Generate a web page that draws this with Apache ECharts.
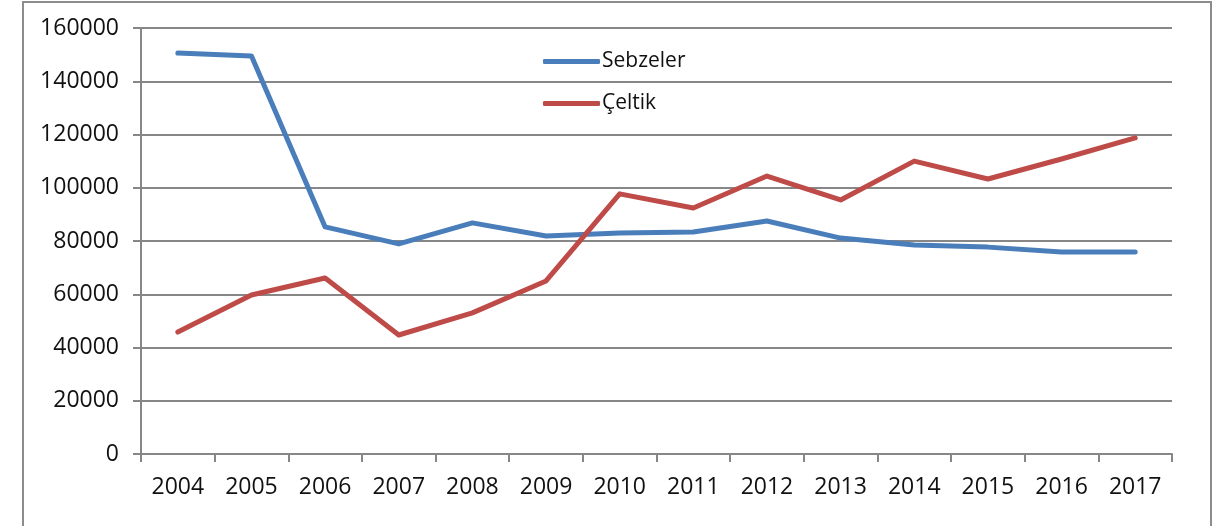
<!DOCTYPE html>
<html>
<head>
<meta charset="utf-8">
<script src="https://cdn.jsdelivr.net/npm/echarts@6/dist/echarts.min.js"></script>
<style>
  html, body { margin: 0; padding: 0; background: #fff; }
  #chart { width: 1227px; height: 526px; }
</style>
</head>
<body>
<div id="chart"></div>
<script>
const years = ['2004', '2005', '2006', '2007', '2008', '2009', '2010',
  '2011', '2012', '2013', '2014', '2015', '2016', '2017'];
const sebzeler = [150600, 149500, 85300, 78900, 86800, 81900, 83000,
  83400, 87500, 81100, 78500, 77700, 75900, 75900];
const celtik = [45800, 59700, 66100, 44700, 53000, 65000, 97700,
  92400, 104400, 95400, 110000, 103300, 110800, 118700];

const gridColor = '#878787';
const fontFamily = '"Open Sans", sans-serif';

const chart = echarts.init(document.getElementById('chart'));

chart.setOption({
  animation: false,
  textStyle: { fontFamily: fontFamily },
  // outer frame of the chart
  graphic: [{
    type: 'rect',
    shape: { x: 23, y: 2, width: 1188, height: 540 },
    style: { fill: 'none', stroke: '#8c8c8c', lineWidth: 2 },
    silent: true
  }],
  grid: { left: 141, right: 55, top: 28, bottom: 72 },
  legend: {
    data: ['Sebzeler', 'Çeltik'],
    orient: 'vertical',
    left: 543,
    top: 50,
    padding: 0,
    itemGap: 19,
    itemWidth: 57,
    itemHeight: 5,
    icon: 'roundRect',
    textStyle: { fontSize: 21, lineHeight: 23, color: '#111', fontFamily: fontFamily, padding: [0, 0, 0, -3] }
  },
  xAxis: {
    type: 'category',
    data: years,
    boundaryGap: true,
    axisLine: { lineStyle: { color: gridColor, width: 2 } },
    axisTick: { show: true, length: 8, alignWithLabel: false, lineStyle: { color: gridColor, width: 2 } },
    axisLabel: { fontSize: 23, color: '#111', margin: 22, fontFamily: fontFamily }
  },
  yAxis: {
    type: 'value',
    min: 0,
    max: 160000,
    interval: 20000,
    axisLine: { show: true, lineStyle: { color: gridColor, width: 2 } },
    axisTick: { show: true, length: 8, lineStyle: { color: gridColor, width: 2 } },
    axisLabel: {
      fontSize: 23, color: '#111', margin: 22, fontFamily: fontFamily,
      formatter: v => String(v)
    },
    splitLine: { lineStyle: { color: gridColor, width: 2 } }
  },
  series: [
    {
      name: 'Sebzeler',
      type: 'line',
      data: sebzeler,
      symbol: 'none',
      color: '#4a7ebb',
      lineStyle: { width: 5, color: '#4a7ebb', cap: 'round', join: 'round' }
    },
    {
      name: 'Çeltik',
      type: 'line',
      data: celtik,
      symbol: 'none',
      color: '#be4b48',
      lineStyle: { width: 5, color: '#be4b48', cap: 'round', join: 'round' }
    }
  ]
});
</script>
</body>
</html>
